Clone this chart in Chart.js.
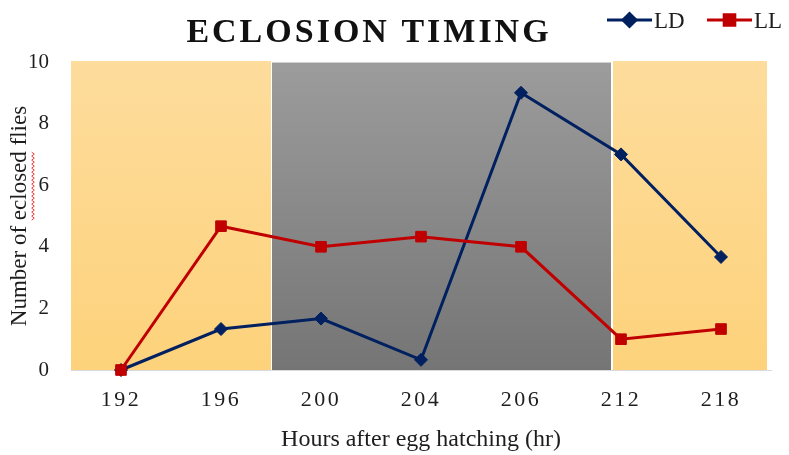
<!DOCTYPE html>
<html>
<head>
<meta charset="utf-8">
<script src="https://cdn.jsdelivr.net/npm/chart.js@4/dist/chart.umd.min.js"></script>
<style>
  html, body { margin: 0; padding: 0; background: #fff; }
  #wrap { width: 789px; height: 455px; position: relative; }
</style>
</head>
<body>
<div id="wrap"><canvas id="c" width="789" height="455"></canvas></div>
<script>
// Hours after egg hatching and mean number of eclosed flies per time point
const hours = ['192', '196', '200', '204', '206', '212', '218'];
const ldFlies = [0, 1.33, 1.67, 0.33, 9, 7, 3.67];
const llFlies = [0, 4.67, 4, 4.33, 4, 1, 1.33];
const yTicks = [0, 2, 4, 6, 8, 10];

// Light / dark phases, as spans along the category axis (index units)
const phaseFrom = [-0.5, 1.5, 4.92];
const phaseTo = [1.5, 4.9, 6.46];
const phaseKind = ['light', 'dark', 'light'];

const SERIF = '"Liberation Serif", "Times New Roman", serif';
const TEXT = '#1e1e1e';

// Shaded light/dark phase bands behind the plot
const phaseBands = {
  id: 'phaseBands',
  beforeDraw(chart) {
    const { ctx, chartArea, scales } = chart;
    const xs = scales.x, ys = scales.y;
    const top = ys.getPixelForValue(10), bottom = ys.getPixelForValue(0);
    ctx.save();
    phaseFrom.forEach((from, i) => {
      const x0 = xs.getPixelForValue(from);
      const x1 = xs.getPixelForValue(phaseTo[i]);
      const g = ctx.createLinearGradient(0, top, 0, bottom);
      if (phaseKind[i] === 'dark') {
        g.addColorStop(0, '#9c9c9c');
        g.addColorStop(1, '#757575');
        ctx.fillStyle = g;
        ctx.fillRect(x0 + 1, top + 1, x1 - x0 - 1, bottom - top - 1);
        ctx.strokeStyle = '#d0d0d0';
        ctx.lineWidth = 1;
        ctx.beginPath();
        ctx.moveTo(x0 + 1, top + 0.5);
        ctx.lineTo(x1, top + 0.5);
        ctx.stroke();
      } else {
        g.addColorStop(0, '#fddc9c');
        g.addColorStop(1, '#fdd27b');
        ctx.fillStyle = g;
        ctx.fillRect(x0, top - 1, x1 - x0, bottom - top + 1);
      }
    });
    ctx.restore();
  }
};

// Spaced digits on the hour axis
const spacedHourLabels = {
  id: 'spacedHourLabels',
  beforeDraw(chart) {
    const xs = chart.scales.x;
    if (xs._spacedPatched) return;
    const orig = xs.drawLabels;
    xs.drawLabels = function (area) {
      const ctx = this.ctx;
      ctx.save();
      ctx.letterSpacing = '2.5px';
      orig.call(this, area);
      ctx.restore();
    };
    xs._spacedPatched = true;
  }
};

// Chart title, legend and the wavy underline on the y-axis title
const headerAndLegend = {
  id: 'headerAndLegend',
  afterDraw(chart) {
    const { ctx } = chart;
    ctx.save();
    // title
    ctx.fillStyle = '#111';
    ctx.font = 'bold 34px ' + SERIF;
    ctx.letterSpacing = '3px';
    ctx.textAlign = 'center';
    ctx.textBaseline = 'alphabetic';
    ctx.fillText('ECLOSION TIMING', 369, 42);
    ctx.letterSpacing = '0px';

    // legend
    const items = [
      { ds: chart.data.datasets[0], x: 607 },
      { ds: chart.data.datasets[1], x: 707 }
    ];
    items.forEach(({ ds, x }) => {
      const y = 20;
      ctx.strokeStyle = ds.borderColor;
      ctx.lineWidth = 3;
      ctx.beginPath();
      ctx.moveTo(x, y);
      ctx.lineTo(x + 45, y);
      ctx.stroke();
      ctx.fillStyle = ds.pointBackgroundColor;
      ctx.strokeStyle = ds.pointBorderColor;
      Chart.helpers.drawPoint(ctx, {
        pointStyle: ds.pointStyle, radius: ds.pointRadius,
        borderWidth: ds.pointBorderWidth, rotation: 0
      }, x + 22.5, y);
      ctx.fillStyle = TEXT;
      ctx.font = '23px ' + SERIF;
      ctx.textAlign = 'left';
      ctx.textBaseline = 'alphabetic';
      ctx.fillText(ds.label, x + 47, 28);
    });

    // red wavy underline beneath "eclosed" in the y-axis title
    const ys = chart.scales.y;
    ctx.font = '23px ' + SERIF;
    const full = ctx.measureText('Number of eclosed flies').width;
    const pre = ctx.measureText('Number of ').width;
    const word = ctx.measureText('eclosed').width;
    const cy = (ys.top + ys.bottom) / 2;
    const yStart = cy + full / 2 - pre;
    const yEnd = yStart - word;
    const wx = 33;
    ctx.strokeStyle = '#f03c3c';
    ctx.lineWidth = 1;
    ctx.beginPath();
    let k = 0;
    for (let y = yStart; y >= yEnd; y -= 2, k++) {
      const x = wx + (k % 2 === 0 ? -1.3 : 1.3);
      if (k === 0) ctx.moveTo(x, y); else ctx.lineTo(x, y);
    }
    ctx.stroke();
    ctx.restore();
  }
};

new Chart(document.getElementById('c'), {
  type: 'line',
  data: {
    labels: hours,
    datasets: [
      {
        label: 'LD',
        data: ldFlies,
        borderColor: '#002060',
        backgroundColor: '#002060',
        pointBackgroundColor: '#002060',
        pointBorderColor: '#002060',
        pointStyle: 'rectRot',
        pointRadius: 6.5,
        pointBorderWidth: 1,
        borderWidth: 3,
        tension: 0,
        fill: false,
        clip: false,
        order: 1
      },
      {
        label: 'LL',
        data: llFlies,
        borderColor: '#c00000',
        backgroundColor: '#c00000',
        pointBackgroundColor: '#c00000',
        pointBorderColor: '#c00000',
        pointStyle: 'rect',
        pointRadius: 7.5,
        pointBorderWidth: 1,
        borderWidth: 3,
        tension: 0,
        fill: false,
        clip: false,
        order: 0
      }
    ]
  },
  options: {
    responsive: false,
    animation: false,
    events: [],
    layout: { padding: { top: 62, right: 18, left: 0, bottom: 0 } },
    plugins: {
      legend: { display: false },
      title: { display: false },
      tooltip: { enabled: false }
    },
    scales: {
      x: {
        type: 'category',
        offset: true,
        afterFit(s) { s.height = 85; },
        grid: { display: false, drawTicks: false },
        border: { display: true, color: '#d9d9d9', width: 1 },
        ticks: {
          autoSkip: false, maxRotation: 0, padding: 17,
          color: TEXT, font: { family: SERIF, size: 22 }
        },
        title: {
          display: true,
          text: 'Hours after egg hatching (hr)',
          color: TEXT,
          font: { family: SERIF, size: 24, lineHeight: 1.2 },
          padding: { top: 0, bottom: 1 }
        }
      },
      y: {
        min: 0,
        max: 10,
        afterFit(s) { s.width = 71; },
        afterBuildTicks(s) { s.ticks = yTicks.map(v => ({ value: v })); },
        grid: { display: false, drawTicks: false },
        border: { display: false },
        ticks: {
          padding: 22,
          color: TEXT, font: { family: SERIF, size: 21 }
        },
        title: {
          display: true,
          text: 'Number of eclosed flies',
          color: TEXT,
          font: { family: SERIF, size: 23, lineHeight: 1.2 },
          padding: { top: 6, bottom: 0 }
        }
      }
    }
  },
  plugins: [phaseBands, spacedHourLabels, headerAndLegend]
});
</script>
</body>
</html>
